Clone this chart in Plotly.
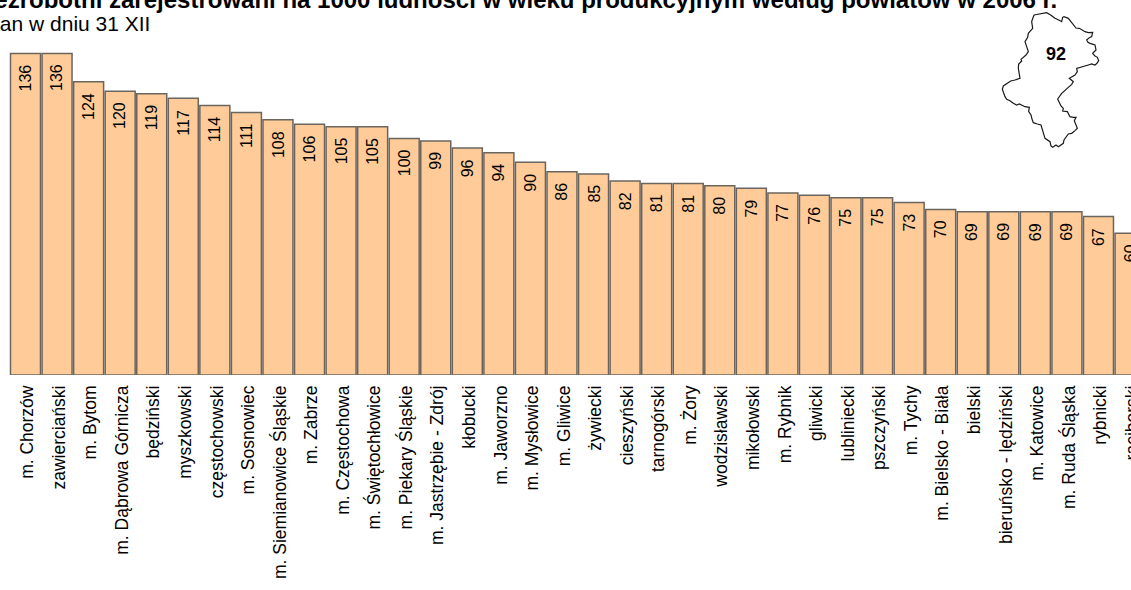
import plotly.graph_objects as go

powiaty = ["m. Chorzów", "zawierciański", "m. Bytom", "m. Dąbrowa Górnicza", "będziński", "myszkowski",
           "częstochowski", "m. Sosnowiec", "m. Siemianowice Śląskie", "m. Zabrze", "m. Częstochowa",
           "m. Świętochłowice", "m. Piekary Śląskie", "m. Jastrzębie - Zdrój", "kłobucki", "m. Jaworzno",
           "m. Mysłowice", "m. Gliwice", "żywiecki", "cieszyński", "tarnogórski", "m. Żory", "wodzisławski",
           "mikołowski", "m. Rybnik", "gliwicki", "lubliniecki", "pszczyński", "m. Tychy", "m. Bielsko - Biała",
           "bielski", "bieruńsko - lędziński", "m. Katowice", "m. Ruda Śląska", "rybnicki", "raciborski"]
wartosci = [136, 136, 124, 120, 119, 117, 114, 111, 108, 106, 105, 105, 100, 99, 96, 94, 90, 86, 85, 82, 81, 81,
            80, 79, 77, 76, 75, 75, 73, 70, 69, 69, 69, 69, 67, 60]

tytul = "Bezrobotni zarejestrowani na 1000 ludności w wieku produkcyjnym według powiatów w 2006 r."
podtytul = "Stan w dniu 31 XII"
srednia = "92"

kontur_x = [222, 233, 245, 260, 272, 285, 296, 305, 308, 312, 325, 330, 335, 345, 348, 358, 370, 375, 385, 398, 395,
            388, 380, 384, 390, 397, 405, 408, 403, 398, 404, 412, 416, 411, 405, 395, 385, 375, 365, 350, 352, 345,
            336, 328, 340, 335, 325, 315, 305, 293, 300, 303, 310, 308, 322, 330, 340, 348, 343, 345, 352, 345, 335,
            325, 318, 312, 310, 295, 288, 278, 273, 270, 255, 252, 248, 243, 232, 220, 216, 213, 206, 208, 195, 190,
            178, 170, 160, 150, 140, 135, 127, 130, 140, 152, 165, 180, 175, 176, 185, 183, 198, 205, 200, 195, 203,
            205, 218, 215, 222]
kontur_y = [45, 43, 42, 38, 45, 55, 60, 65, 52, 50, 55, 62, 68, 82, 84, 85, 92, 95, 98, 97, 110,
            113, 120, 127, 130, 132, 135, 150, 155, 160, 167, 172, 182, 190, 195, 192, 195, 198, 200, 205, 215, 225,
            230, 235, 245, 253, 262, 270, 280, 297, 310, 318, 325, 333, 335, 350, 352, 352, 362, 368, 385, 392, 400,
            402, 410, 420, 430, 440, 435, 442, 438, 425, 415, 405, 395, 375, 372, 368, 357, 345, 335, 322, 320, 318,
            312, 315, 310, 302, 298, 290, 268, 258, 250, 243, 240, 235, 205, 192, 183, 178, 165, 155, 140, 125, 112,
            100, 85, 65, 45]

fig = go.Figure()
fig.add_trace(go.Bar(
    x=powiaty, y=wartosci, width=0.95,
    marker=dict(color="#FFCC99", line=dict(color="#6b6560", width=1.5)),
    hoverinfo="x+y",
))
fig.add_trace(go.Scatter(
    x=kontur_x, y=kontur_y, xaxis="x2", yaxis="y2", mode="lines",
    line=dict(color="#1a1a1a", width=1.2), hoverinfo="skip",
))

etykiety = [
    dict(text=str(v), x=p, y=v, xref="x", yref="y", yanchor="top", yshift=-9, textangle=-90, showarrow=False,
         font=dict(size=16, family="Liberation Sans", color="black"))
    for p, v in zip(powiaty, wartosci)
]

plot_h = 375
fig.update_layout(
    width=1131, height=590, margin=dict(l=0, r=0, t=0, b=215, autoexpand=False),
    paper_bgcolor="white", plot_bgcolor="white", showlegend=False, bargap=0.05,
    font=dict(family="Liberation Sans", color="black"),
    xaxis=dict(type="category", categoryorder="array", categoryarray=powiaty, range=[-0.808, 35.03],
               tickangle=-90, tickfont=dict(size=17.5, family="Liberation Sans"), ticks="", showgrid=False,
               showline=False, zeroline=False, ticklabelstandoff=6, ticklabelshift=2),
    yaxis=dict(range=[0, 158.6], visible=False, showgrid=False, zeroline=False),
    xaxis2=dict(domain=[960 / 1131, 1], range=[0, 513], anchor="y2", visible=False),
    yaxis2=dict(domain=[(plot_h - 160) / plot_h, 1], range=[480, 0], anchor="x2", visible=False),
    annotations=etykiety + [
        dict(text=f"<b>{tytul}</b>", xref="paper", yref="paper", x=1059 / 1131, y=1, yanchor="middle", xanchor="right",
             yshift=1, showarrow=False, font=dict(size=24, family="Liberation Sans")),
        dict(text=podtytul, xref="paper", yref="paper", x=152 / 1131, y=1, xanchor="right", yanchor="middle",
             yshift=-23, showarrow=False, font=dict(size=21, family="Liberation Sans")),
        dict(text=f"<b>{srednia}</b>", xref="x2", yref="y2", x=287, y=163, showarrow=False,
             font=dict(size=18, family="Liberation Sans")),
    ],
)
fig.write_html("out.html", config=dict(displayModeBar=False),
               post_script="document.body.style.margin='0';document.body.style.overflow='hidden';")
